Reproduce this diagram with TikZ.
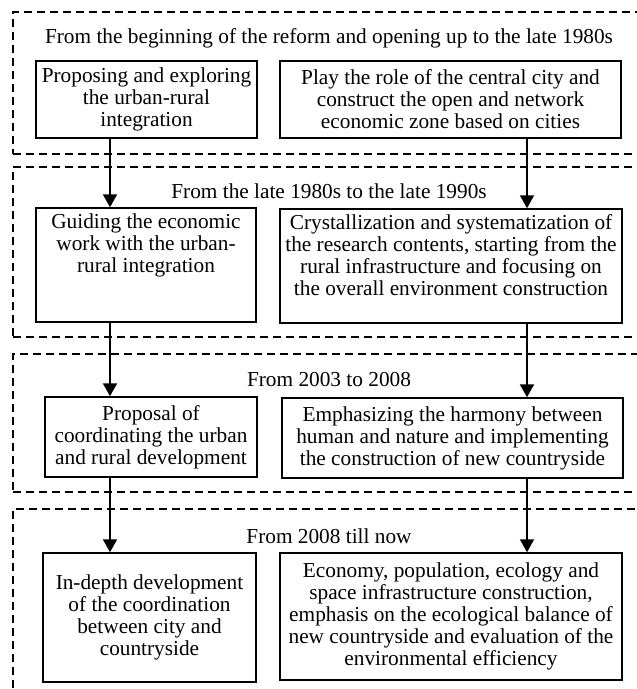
\documentclass[tikz,border=0pt]{standalone}
\usepackage{fontspec}
\setmainfont{Liberation Serif}
\usetikzlibrary{arrows.meta,positioning}
\tikzset{
  box/.style   ={draw,line width=1.5pt,inner sep=0pt,align=center,
                 font=\fontsize{21.3}{22}\selectfont},
  band/.style  ={draw,dash pattern=on 8pt off 5pt,line width=1.5pt,
                 anchor=north west,inner sep=0pt},
  stage/.style ={inner sep=0pt,font=\fontsize{21.3}{22}\selectfont},
  flow/.style  ={-{Triangle[length=13pt,width=14pt]},line width=2pt}
}

\begin{document}
\begin{tikzpicture}[x=1pt,y=-1pt]
        \useasboundingbox (0,0) rectangle (637,689);
        % period bands
        \node[band,minimum width=660pt,minimum height=142pt] (band1) at (12,11) {};
        \node[band,minimum width=660pt,minimum height=170pt] (band2) at (12,166) {};
        \node[band,minimum width=660pt,minimum height=138pt] (band3) at (12,353) {};
        \node[band,minimum width=660pt,minimum height=212pt] (band4) at (12,508) {};
        \node[stage] (stage1) at (329,38)
          {From the beginning of the reform and opening up to the late 1980s};
        \node[stage] (stage2) at (329,191) {From the late 1980s to the late 1990s};
        \node[stage] (stage3) at (329,380) {From 2003 to 2008};
        \node[stage] (stage4) at (329,536) {From 2008 till now};
        % left column
        \node[box,minimum width=221pt,minimum height=77pt] (urb1) at (146.5,99.5)
          {Proposing and exploring\\the urban-rural\\integration};
        \node[box,minimum width=220pt,minimum height=114pt] (urb2) at (146,265)
          {Guiding the economic\\work with the urban-\\rural integration\\~\\~};
        \node[box,minimum width=212pt,minimum height=80pt] (urb3) at (151,437)
          {Proposal of\\coordinating the urban\\and rural development};
        \node[box,minimum width=213pt,minimum height=129pt] (urb4) at (149.5,617.5)
          {In-depth development\\of the coordination\\between city and\\countryside};
        % right column
        \node[box,minimum width=341pt,minimum height=77pt] (env1) at (450.5,99.5)
          {Play the role of the central city and\\construct the open and network\\economic zone based on cities};
        \node[box,minimum width=342pt,minimum height=114pt] (env2) at (451,266)
          {Crystallization and systematization of\\the research contents, starting from the\\rural infrastructure and focusing on\\the overall environment construction\\~};
        \node[box,minimum width=341pt,minimum height=80pt] (env3) at (452.5,438)
          {Emphasizing the harmony between\\human and nature and implementing\\the construction of new countryside};
        \node[box,minimum width=342pt,minimum height=127pt] (env4) at (451,616.5)
          {Economy, population, ecology and\\space infrastructure construction,\\emphasis on the ecological balance of\\new countryside and evaluation of the\\environmental efficiency};
        % arrows
        \coordinate (lx) at (110,0);
        \coordinate (rx) at (527,0);
        \draw[flow] (urb1.south -| lx) -- (urb2.north -| lx);
        \draw[flow] (urb2.south -| lx) -- (urb3.north -| lx);
        \draw[flow] (urb3.south -| lx) -- (urb4.north -| lx);
        \draw[flow] (env1.south -| rx) -- (env2.north -| rx);
        \draw[flow] (env2.south -| rx) -- (env3.north -| rx);
        \draw[flow] (env3.south -| rx) -- (env4.north -| rx);
      \end{tikzpicture}
\end{document}
